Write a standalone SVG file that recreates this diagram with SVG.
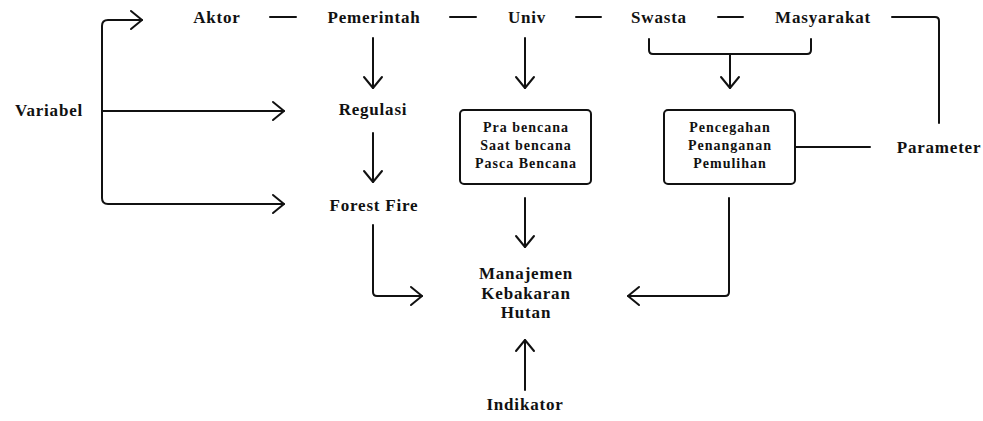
<svg xmlns="http://www.w3.org/2000/svg" width="983" height="421" viewBox="0 0 983 421">
<defs>
<style>
.t{font-family:"Liberation Serif","Times New Roman",serif;font-weight:bold;font-size:17px;letter-spacing:0.8px;fill:#111;text-anchor:middle}
.b{font-size:14px;letter-spacing:1px}
.c{fill:none;stroke:#111;stroke-width:2;stroke-linecap:round;stroke-linejoin:round}
.box{fill:#fff;stroke:#111;stroke-width:2}
</style>
<marker id="ah" markerUnits="userSpaceOnUse" markerWidth="30" markerHeight="30" viewBox="-15 -15 30 30" refX="0" refY="0" orient="auto">
<path d="M-11,-9 L0,0 L-11,9" fill="none" stroke="#111" stroke-width="2" stroke-linecap="round" stroke-linejoin="round"/>
</marker>
</defs>
<rect width="983" height="421" fill="#fff"/>
<g id="connectors">
<path class="c" d="M102,111 H284" marker-end="url(#ah)"/>
<path class="c" d="M102,111 V26 Q102,20 108,20 H142" marker-end="url(#ah)"/>
<path class="c" d="M102,111 V198 Q102,204 108,204 H284" marker-end="url(#ah)"/>
<path class="c" d="M270,17 H296 M450,17 H476 M576,17 H601 M718,17 H743"/>
<path class="c" d="M892,17 H935 Q939,17 939,21 V123"/>
<path class="c" d="M373,38 V88" marker-end="url(#ah)"/>
<path class="c" d="M525,38 V88" marker-end="url(#ah)"/>
<path class="c" d="M373,133 V182" marker-end="url(#ah)"/>
<path class="c" d="M649,39 V50 Q649,54 653,54 H807 Q811,54 811,50 V39"/>
<path class="c" d="M730,54 V88" marker-end="url(#ah)"/>
<path class="c" d="M795,147 H870"/>
<path class="c" d="M525,198 V247" marker-end="url(#ah)"/>
<path class="c" d="M373,225 V292 Q373,296 377,296 H422" marker-end="url(#ah)"/>
<path class="c" d="M729,198 V292 Q729,296 725,296 H628" marker-end="url(#ah)"/>
<path class="c" d="M525,390 V340" marker-end="url(#ah)"/>
</g>
<g id="aktor"><text class="t" x="217" y="23">Aktor</text></g>
<g id="pemerintah"><text class="t" x="374" y="23">Pemerintah</text></g>
<g id="univ"><text class="t" x="527" y="23">Univ</text></g>
<g id="swasta"><text class="t" x="659" y="23">Swasta</text></g>
<g id="masyarakat"><text class="t" x="823" y="23">Masyarakat</text></g>
<g id="variabel"><text class="t" x="49" y="116">Variabel</text></g>
<g id="regulasi"><text class="t" x="373" y="115">Regulasi</text></g>
<g id="forestfire"><text class="t" x="374" y="211">Forest Fire</text></g>
<g id="parameter"><text class="t" x="939" y="153">Parameter</text></g>
<g id="tahap">
<rect class="box" x="460" y="110" width="131" height="74" rx="4"/>
<text class="t b" x="526" y="132">Pra bencana</text>
<text class="t b" x="526" y="150">Saat bencana</text>
<text class="t b" x="526" y="168">Pasca Bencana</text>
</g>
<g id="kegiatan">
<rect class="box" x="664" y="110" width="131" height="74" rx="4"/>
<text class="t b" x="730" y="132">Pencegahan</text>
<text class="t b" x="730" y="150">Penanganan</text>
<text class="t b" x="730" y="168">Pemulihan</text>
</g>
<g id="manajemen">
<text class="t" x="526" y="279">Manajemen</text>
<text class="t" x="526" y="299">Kebakaran</text>
<text class="t" x="526" y="318">Hutan</text>
</g>
<g id="indikator"><text class="t" x="525" y="410">Indikator</text></g>
</svg>
